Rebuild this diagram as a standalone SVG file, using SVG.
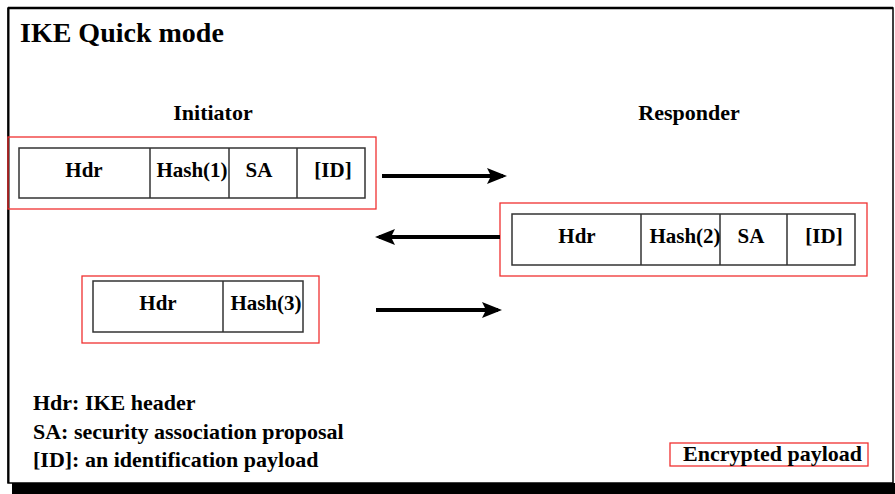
<svg xmlns="http://www.w3.org/2000/svg" width="895" height="494" viewBox="0 0 895 494">
<defs>
<style>
text{font-family:"Liberation Serif","Times New Roman",serif;font-weight:bold;fill:#000}
.t{font-size:28px}
.h{font-size:22px;text-anchor:middle}
.b{font-size:21px;text-anchor:middle}
.l{font-size:22px}
.red{fill:none;stroke:#f03030;stroke-width:1.3}
.cell{fill:#fff;stroke:#333;stroke-width:1.5}
.arr{stroke:#000;stroke-width:4;fill:none}
</style>
<marker id="ah" markerWidth="5" markerHeight="4" refX="4" refY="2" orient="auto" markerUnits="strokeWidth">
<path d="M0,0 L5,2 L0,4 L1,2 Z" fill="#000"/>
</marker>
</defs>
<rect x="0" y="0" width="895" height="494" fill="#fff"/>
<g id="frame">
<rect x="12" y="483" width="883" height="11" fill="#000"/>
<rect x="8" y="8" width="885" height="475" fill="#fff" stroke="#000" stroke-width="1.5"/>
<line x1="8" y1="8" x2="893" y2="8" stroke="#000" stroke-width="2.5"/>
<line x1="8.5" y1="8" x2="8.5" y2="483" stroke="#000" stroke-width="2"/>
</g>
<text class="t" x="20" y="42">IKE Quick mode</text>
<text class="h" x="213" y="120">Initiator</text>
<text class="h" x="689" y="120">Responder</text>
<g id="msg1">
<rect class="red" x="8" y="137" width="368" height="72"/>
<rect class="cell" x="19" y="148" width="346" height="50"/>
<line class="cell" x1="150" y1="148" x2="150" y2="198"/>
<line class="cell" x1="229" y1="148" x2="229" y2="198"/>
<line class="cell" x1="297" y1="148" x2="297" y2="198"/>
<text class="b" x="84" y="177">Hdr</text>
<text class="b" x="192" y="177">Hash(1)</text>
<text class="b" x="259" y="177">SA</text>
<text class="b" x="333" y="177">[ID]</text>
</g>
<g id="msg2">
<rect class="red" x="500" y="203" width="367" height="73"/>
<rect class="cell" x="512" y="214" width="343" height="51"/>
<line class="cell" x1="641" y1="214" x2="641" y2="265"/>
<line class="cell" x1="720" y1="214" x2="720" y2="265"/>
<line class="cell" x1="787" y1="214" x2="787" y2="265"/>
<text class="b" x="577" y="243">Hdr</text>
<text class="b" x="685" y="243">Hash(2)</text>
<text class="b" x="751" y="243">SA</text>
<text class="b" x="824" y="243">[ID]</text>
</g>
<g id="msg3">
<rect class="red" x="82" y="276" width="237" height="67"/>
<rect class="cell" x="93" y="281" width="210" height="51"/>
<line class="cell" x1="223" y1="281" x2="223" y2="332"/>
<text class="b" x="158" y="310">Hdr</text>
<text class="b" x="266" y="310">Hash(3)</text>
</g>
<g id="connectors">
<line class="arr" x1="382" y1="176" x2="503" y2="176" marker-end="url(#ah)"/>
<line class="arr" x1="500" y1="237" x2="379" y2="237" marker-end="url(#ah)"/>
<line class="arr" x1="376" y1="310" x2="498" y2="310" marker-end="url(#ah)"/>
</g>
<g id="legend">
<text class="l" x="33" y="410">Hdr: IKE header</text>
<text class="l" x="33" y="439">SA: security association proposal</text>
<text class="l" x="33" y="467">[ID]: an identification payload</text>
</g>
<g id="key">
<rect class="red" x="670" y="443" width="198" height="23"/>
<text class="l" x="683" y="461">Encrypted payload</text>
</g>
</svg>
